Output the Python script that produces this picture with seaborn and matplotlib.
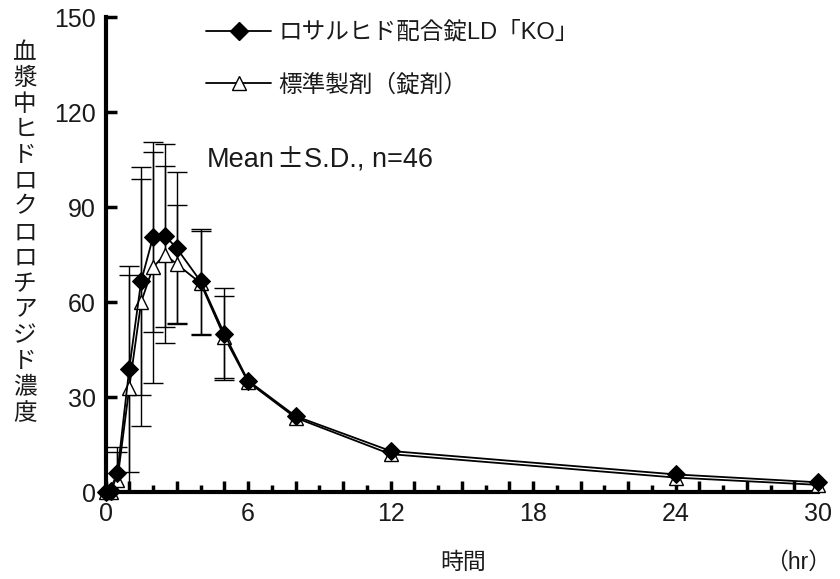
import numpy as np
import pandas as pd
import matplotlib
matplotlib.use("Agg")
import matplotlib.pyplot as plt
import seaborn as sns
from matplotlib.lines import Line2D

# ---- data ----
times = [0, 0.25, 0.5, 1, 1.5, 2, 2.5, 3, 4, 5, 6, 8, 12, 24, 30]
ld_mean = [0, 0.3, 6, 39, 66.6, 80.5, 81, 77, 66.6, 50, 35.2, 24, 13, 5.6, 3.1]
ld_sd = [np.nan, np.nan, 8.3, 32.5, 36, 30, 29, 24, 16.6, 14.5, np.nan, np.nan, np.nan, np.nan, np.nan]
std_mean = [0, 0, 3.8, 33, 60, 71, 75, 72, 66, 49, 34.8, 23.5, 12, 4.6, 2.3]
std_sd = [np.nan, np.nan, 8.9, 35.5, 39, 36.5, 28, 18.5, 16.5, 13, np.nan, np.nan, np.nan, np.nan, np.nan]

label_ld = "ロサルヒド配合錠LD「KO」"
label_std = "標準製剤（錠剤）"
ylabel = "血漿中ヒドロクロロチアジド濃度"
xlabel = "時間"
unit = "（hr）"
note_parts = ["Mean", "±", "S.D., n=46"]
xticks = [0, 6, 12, 18, 24, 30]
yticks = [0, 30, 60, 90, 120, 150]

sns.set_theme(style="white")
plt.rcParams['font.family'] = ['Liberation Sans', 'Noto Sans CJK JP', 'DejaVu Sans']
TXT = "#1a1a1a"

fig = plt.figure(figsize=(8.4, 5.79), dpi=100)
ax = fig.add_axes([0.1256, 0.150, 0.974 - 0.1256, 0.9706 - 0.150])

df = pd.DataFrame({"t": times, "ld": ld_mean, "ldsd": ld_sd, "st": std_mean, "stsd": std_sd})

# standard (triangles) first
m = df["stsd"].notna()
ax.errorbar(df.t[m], df.st[m], yerr=df.stsd[m], fmt="none", ecolor="black",
            elinewidth=1.0, capsize=7, capthick=1.0, zorder=2)
sns.lineplot(data=df, x="t", y="st", ax=ax, color="black", linewidth=1.3,
             marker="^", markersize=10, markerfacecolor="white",
             markeredgecolor="black", markeredgewidth=1.0, zorder=3, clip_on=False)
m = df["ldsd"].notna()
ax.errorbar(df.t[m], df.ld[m], yerr=df.ldsd[m], fmt="none", ecolor="black",
            elinewidth=1.0, capsize=7, capthick=1.0, zorder=2)
sns.lineplot(data=df, x="t", y="ld", ax=ax, color="black", linewidth=1.3,
             marker="D", markersize=9, markerfacecolor="black",
             markeredgecolor="black", zorder=4, clip_on=False)

ax.set_xlim(0, 30)
ax.set_ylim(0, 150)
ax.set_xticks(xticks)
ax.set_xticks(range(0, 31, 1), minor=True)
ax.set_yticks(yticks)
ax.set_xticklabels([str(v) for v in xticks], fontsize=18)
ax.set_yticklabels([str(v) for v in yticks], fontsize=18)
ax.tick_params(axis="both", which="major", direction="in", length=8, width=2.5,
               color="black", bottom=True, left=True, pad=7, labelcolor=TXT)
ax.tick_params(axis="x", which="minor", direction="in", length=5, width=2.5,
               color="black", bottom=True)
minor_ticks = ax.xaxis.get_minor_ticks()
for t_, val in zip(minor_ticks, range(0, 31)):
    if val % 2 == 0:
        t_.tick1line.set_markersize(8)
ax.set_xlabel("")
ax.set_ylabel("")
for s in ["top", "right"]:
    ax.spines[s].set_visible(False)
for s in ["left", "bottom"]:
    ax.spines[s].set_linewidth(3)
    ax.spines[s].set_color("black")

# y label, stacked vertically
fig.text(25 / 840, 1 - 42 / 579, "\n".join(ylabel), ha="center", va="top",
         fontsize=17, linespacing=1.22, color=TXT)
fig.text(463 / 840, 1 - 562 / 579, xlabel, ha="center", va="center", fontsize=16.5, color=TXT)
fig.text(798 / 840, 1 - 562 / 579, unit, ha="center", va="center", fontsize=16.5, color=TXT)

# note text, built from pieces so the ± uses the Japanese font
fig.canvas.draw()
renderer = fig.canvas.get_renderer()
x_px = 207
fams = [['Liberation Sans'], ['Noto Sans CJK JP'], ['Liberation Sans']]
for part, fam in zip(note_parts, fams):
    t = fig.text(x_px / 840, 1 - 160 / 579, part, ha="left", va="center",
                 fontsize=19.5, color=TXT, family=fam)
    bb = t.get_window_extent(renderer)
    x_px = bb.x1 + 1

h1 = Line2D([], [], color="black", linewidth=1.3, marker="D", markersize=9,
            markerfacecolor="black", markeredgecolor="black")
h2 = Line2D([], [], color="black", linewidth=1.3, marker="^", markersize=10,
            markerfacecolor="white", markeredgecolor="black")
leg = fig.legend([h1, h2], [label_ld, label_std], loc="upper left",
                 bbox_to_anchor=(185 / 840, 1 - 0 / 579), frameon=False,
                 fontsize=17, handlelength=2.75, labelspacing=1.25, handletextpad=0.3)
for t in leg.get_texts():
    t.set_color(TXT)

fig.savefig("out.png", dpi=100)
